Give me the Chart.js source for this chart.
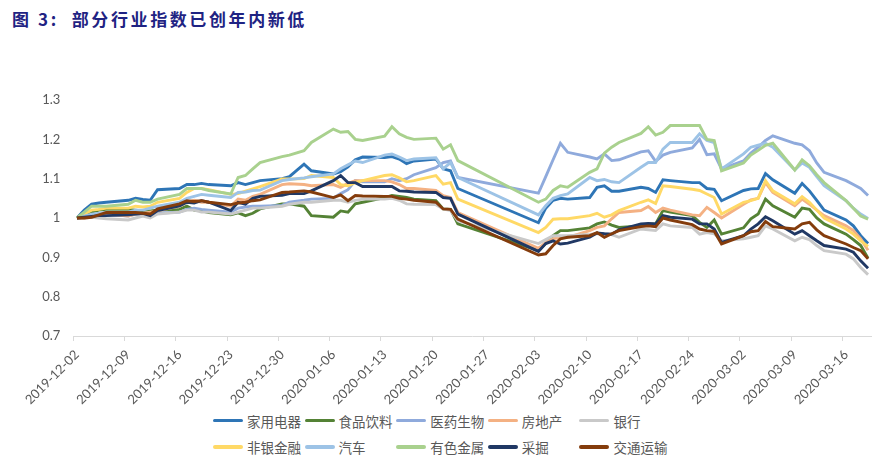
<!DOCTYPE html>
<html>
<head>
<meta charset="utf-8">
<script src="https://cdn.jsdelivr.net/npm/chart.js@4.4.0/dist/chart.umd.min.js"></script>
<style>
  body { margin: 0; background: #fff; width: 889px; height: 468px; overflow: hidden; position: relative; }
  #title { position: absolute; left: 12px; top: 6px; font: 700 17px "Noto Sans CJK SC"; color: #1f2383; letter-spacing: 2.6px; white-space: pre; }
  #box { position: absolute; left: 0; top: 0; width: 889px; height: 410px; }
  .lg { position: absolute; height: 20px; font: 13.5px "Noto Sans CJK SC"; color: #595959; white-space: nowrap; }
  .lg i { position: absolute; left: 0; top: 8px; width: 30px; height: 3.5px; border-radius: 2px; }
  .lg span { position: absolute; left: 34px; top: 0; line-height: 20px; }
</style>
</head>
<body>
<div id="title">图 3:  部分行业指数已创年内新低</div>
<div id="box"><canvas id="chart"></canvas></div>
<div id="legend"></div>
<script>
// trading days shown on the chart
const tradeDates = [
  '2019-12-02','2019-12-03','2019-12-04','2019-12-05','2019-12-06',
  '2019-12-09','2019-12-10','2019-12-11','2019-12-12','2019-12-13',
  '2019-12-16','2019-12-17','2019-12-18','2019-12-19','2019-12-20',
  '2019-12-23','2019-12-24','2019-12-25','2019-12-26','2019-12-27',
  '2019-12-30','2019-12-31','2020-01-02','2020-01-03',
  '2020-01-06','2020-01-07','2020-01-08','2020-01-09','2020-01-10',
  '2020-01-13','2020-01-14','2020-01-15','2020-01-16','2020-01-17',
  '2020-01-20','2020-01-21','2020-01-22','2020-01-23',
  '2020-02-03','2020-02-04','2020-02-05','2020-02-06','2020-02-07',
  '2020-02-10','2020-02-11','2020-02-12','2020-02-13','2020-02-14',
  '2020-02-17','2020-02-18','2020-02-19','2020-02-20','2020-02-21',
  '2020-02-24','2020-02-25','2020-02-26','2020-02-27','2020-02-28',
  '2020-03-02','2020-03-03','2020-03-04','2020-03-05','2020-03-06',
  '2020-03-09','2020-03-10','2020-03-11','2020-03-12','2020-03-13',
  '2020-03-16','2020-03-17','2020-03-18','2020-03-19'
];

const seriesNames = ['家用电器','食品饮料','医药生物','房地产','银行','非银金融','汽车','有色金属','采掘','交通运输'];
const seriesColors = ['#2E75B6','#548235','#8FAADC','#F4B183','#C9C9C9','#FFD966','#9DC3E6','#A9D18E','#203864','#843C0C'];

const jydq = [1.000,1.020,1.035,1.038,1.040, 1.045,1.050,1.047,1.045,1.072, 1.075,1.085,1.085,1.088,1.085, 1.082,1.090,1.085,1.090,1.095, 1.100,1.105,
  1.137,1.120,1.112,1.118,1.130,1.148,1.155, 1.154,1.156,1.150,1.138,1.145, 1.150,1.125,1.120,1.075,
  0.988,1.025,1.045,1.050,1.048, 1.052,1.078,1.082,1.068,1.068, 1.078,1.075,1.065,1.097,1.095, 1.090,1.090,1.075,1.073,1.044,
  1.070,1.074,1.075,1.113,1.097, 1.063,1.088,1.069,1.045,1.020, 0.995,0.980,0.955,0.935];
const spyl = [1.000,1.005,1.015,1.020,1.022, 1.022,1.020,1.018,1.018,1.020, 1.022,1.030,1.020,1.018,1.014, 1.008,1.013,1.006,1.012,1.023, 1.036,1.036,
  1.030,1.006,1.002,1.018,1.015,1.036,1.040, 1.052,1.057,1.055,1.052,1.048, 1.044,1.023,1.022,0.985,
  0.917,0.935,0.955,0.968,0.968, 0.975,0.985,0.990,0.982,0.976, 0.980,0.985,0.985,1.019,1.015, 1.006,0.989,0.976,0.995,0.959,
  0.975,0.998,1.010,1.048,1.031, 1.002,1.025,1.022,1.000,0.985, 0.959,0.945,0.930,0.898];
const yysw = [1.000,1.005,1.005,1.008,1.010, 1.005,1.010,1.008,1.010,1.012, 1.015,1.022,1.025,1.022,1.020, 1.015,1.025,1.028,1.030,1.030, 1.032,1.040,
  1.045,1.048,1.050,1.062,1.072,1.095,1.092, 1.092,1.100,1.095,1.100,1.110, 1.128,1.141,1.145,1.103,
  1.063,1.105,1.148,1.190,1.167, 1.155,1.150,1.163,1.146,1.148, 1.168,1.171,1.144,1.160,1.167, 1.178,1.200,1.161,1.163,1.125,
  1.145,1.165,1.180,1.197,1.209, 1.190,1.186,1.171,1.140,1.116, 1.095,1.085,1.075,1.057];
const fdc = [1.000,1.000,1.005,1.010,1.010, 1.005,1.010,1.012,1.015,1.018, 1.030,1.040,1.045,1.040,1.040, 1.030,1.048,1.045,1.055,1.060, 1.085,1.087,
  1.085,1.082,1.085,1.078,1.088,1.095,1.095, 1.095,1.092,1.085,1.075,1.075, 1.070,1.057,1.052,1.014,
  0.923,0.938,0.947,0.951,0.951, 0.968,0.976,0.980,0.998,1.014, 1.019,1.029,1.014,1.025,1.020, 1.008,1.006,1.027,1.014,1.000,
  1.035,1.046,1.050,1.090,1.065, 1.031,1.048,1.035,1.020,1.006, 0.980,0.968,0.947,0.918];
const yh = [1.000,1.000,1.002,1.000,0.998, 0.995,1.000,1.005,1.000,1.010, 1.015,1.020,1.020,1.015,1.015, 1.010,1.015,1.020,1.025,1.025, 1.030,1.035,
  1.040,1.040,1.045,1.045,1.040,1.045,1.048, 1.048,1.050,1.045,1.036,1.035, 1.034,1.023,1.019,0.993,
  0.935,0.945,0.955,0.955,0.955, 0.958,0.960,0.960,0.958,0.951, 0.972,0.970,0.968,0.985,0.980, 0.976,0.959,0.963,0.960,0.942,
  0.947,0.951,0.955,0.980,0.972, 0.942,0.951,0.945,0.930,0.917, 0.908,0.896,0.874,0.856];
const fyjr = [1.000,1.010,1.020,1.022,1.025, 1.025,1.030,1.028,1.030,1.040, 1.050,1.065,1.075,1.075,1.072, 1.060,1.062,1.068,1.074,1.080, 1.099,1.099,
  1.100,1.108,1.103,1.085,1.082,1.090,1.095, 1.108,1.110,1.102,1.092,1.095, 1.108,1.086,1.090,1.048,
  0.963,0.976,0.997,0.998,0.998, 1.006,1.012,1.002,1.008,1.019, 1.040,1.046,1.037,1.082,1.080, 1.073,1.070,1.061,1.052,1.010,
  1.040,1.044,1.050,1.095,1.069, 1.036,1.054,1.040,1.020,1.000, 0.972,0.959,0.942,0.928];
const qc = [1.000,1.005,1.010,1.012,1.015, 1.015,1.020,1.020,1.025,1.030, 1.040,1.050,1.055,1.060,1.058, 1.052,1.065,1.066,1.070,1.071, 1.095,1.098,
  1.102,1.105,1.112,1.125,1.135,1.145,1.141, 1.160,1.163,1.155,1.146,1.150, 1.153,1.125,1.141,1.103,
  1.008,1.031,1.050,1.057,1.061, 1.103,1.095,1.098,1.092,1.090, 1.129,1.141,1.141,1.175,1.192, 1.192,1.214,1.197,1.192,1.125,
  1.163,1.180,1.185,1.190,1.180, 1.122,1.140,1.129,1.105,1.082, 1.044,1.025,1.010,0.999];
const ysjs = [1.000,1.015,1.030,1.030,1.030, 1.035,1.045,1.040,1.040,1.048, 1.060,1.075,1.075,1.075,1.070, 1.061,1.103,1.108,1.125,1.141, 1.156,1.160,
  1.171,1.192,1.226,1.218,1.220,1.200,1.197, 1.208,1.232,1.214,1.205,1.200, 1.203,1.175,1.186,1.146,
  1.040,1.048,1.070,1.082,1.078, 1.116,1.125,1.165,1.180,1.192, 1.215,1.232,1.211,1.218,1.235, 1.235,1.235,1.200,1.197,1.120,
  1.140,1.160,1.172,1.185,1.190, 1.122,1.148,1.133,1.110,1.090, 1.044,1.025,1.005,0.997];
const cj = [1.000,1.002,1.004,1.006,1.006, 1.008,1.010,1.012,1.006,1.019, 1.031,1.040,1.038,1.044,1.040, 1.019,1.040,1.035,1.050,1.055, 1.058,1.062,
  1.062,1.069,1.095,1.108,1.090,1.090,1.080, 1.080,1.080,1.069,1.068,1.066, 1.065,1.052,1.050,1.010,
  0.915,0.935,0.942,0.934,0.936, 0.951,0.962,0.960,0.959,0.970, 0.985,0.986,0.985,1.006,1.002, 0.997,0.985,0.985,0.972,0.938,
  0.955,0.972,0.985,1.003,0.993, 0.959,0.968,0.955,0.942,0.930, 0.921,0.913,0.891,0.872];
const jtys = [1.000,1.000,1.002,1.008,1.014, 1.014,1.014,1.012,1.010,1.023, 1.036,1.044,1.042,1.044,1.040, 1.034,1.038,1.040,1.044,1.046, 1.065,1.066,
  1.069,1.066,1.052,1.059,1.044,1.057,1.056, 1.055,1.055,1.050,1.048,1.045, 1.040,1.023,1.022,0.997,
  0.906,0.909,0.930,0.947,0.951, 0.955,0.963,0.951,0.960,0.968, 0.978,0.980,0.978,1.000,0.995, 0.983,0.972,0.968,0.966,0.934,
  0.955,0.965,0.968,0.991,0.978, 0.972,0.985,0.989,0.970,0.955, 0.934,0.925,0.917,0.896];

const seriesValues = [jydq, spyl, yysw, fdc, yh, fyjr, qc, ysjs, cj, jtys];

// calendar axis: every day from the first to the last trading day
const calDays = [];
const d0 = new Date(tradeDates[0] + 'T00:00:00Z');
const d1 = new Date(tradeDates[tradeDates.length - 1] + 'T00:00:00Z');
for (let t = d0.getTime(); t <= d1.getTime(); t += 86400000) {
  calDays.push(new Date(t).toISOString().slice(0, 10));
}

Chart.defaults.font.family = 'Lato';
Chart.defaults.color = '#595959';

const datasets = seriesNames.map((name, i) => ({
  label: name,
  data: tradeDates.map((d, k) => ({ x: d, y: seriesValues[i][k] })),
  borderColor: seriesColors[i],
  backgroundColor: seriesColors[i],
  borderWidth: 2.9,
  pointRadius: 0,
  tension: 0,
  fill: false,
  order: seriesNames.length - i
}));

new Chart(document.getElementById('chart'), {
  type: 'line',
  data: { labels: calDays, datasets: datasets },
  options: {
    responsive: true,
    maintainAspectRatio: false,
    animation: false,
    layout: { padding: { top: 100, right: 17.3, left: 0, bottom: 0 } },
    plugins: { legend: { display: false }, tooltip: { enabled: false } },
    scales: {
      x: {
        type: 'category',
        offset: true,
        afterFit: s => { s.height = 74; },
        border: { color: '#D9D9D9', width: 1 },
        grid: {
          display: true,
          drawOnChartArea: false,
          offset: true,
          tickLength: 5,
          color: ctx => (ctx.index % 7 === 0 ? '#D9D9D9' : 'rgba(0,0,0,0)')
        },
        ticks: {
          autoSkip: false,
          minRotation: 45,
          maxRotation: 45,
          padding: 6,
          font: { size: 13 },
          callback: (v, idx) => (idx % 7 === 0 ? calDays[idx] : '')
        }
      },
      y: {
        min: 0.7,
        max: 1.3,
        afterFit: s => { s.width = 73.3; },
        border: { display: false },
        grid: { display: false, drawTicks: false },
        ticks: {
          stepSize: 0.1,
          padding: 13,
          font: { size: 13 },
          callback: v => String(Math.round(v * 10) / 10)
        }
      }
    }
  }
});

// legend in two rows of five, fixed columns
const legend = document.getElementById('legend');
seriesNames.forEach((name, i) => {
  const row = Math.floor(i / 5), col = i % 5;
  const el = document.createElement('div');
  el.className = 'lg';
  el.style.left = (213 + col * 91.6) + 'px';
  el.style.top = (row === 0 ? 410.5 : 437) + 'px';
  el.innerHTML = '<i style="background:' + seriesColors[i] + '"></i><span>' + name + '</span>';
  legend.appendChild(el);
});
</script>
</body>
</html>
